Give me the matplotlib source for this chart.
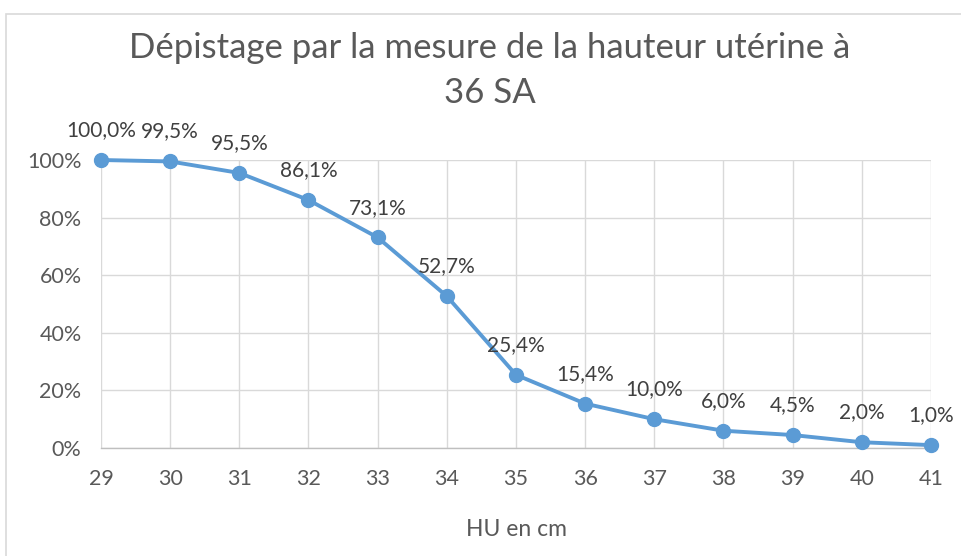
import matplotlib
matplotlib.use("Agg")
import matplotlib.pyplot as plt
from matplotlib.patches import Rectangle

hu_cm = [29, 30, 31, 32, 33, 34, 35, 36, 37, 38, 39, 40, 41]
depistage = [100.0, 99.5, 95.5, 86.1, 73.1, 52.7, 25.4, 15.4, 10.0, 6.0, 4.5, 2.0, 1.0]
y_ticks = [0, 20, 40, 60, 80, 100]

plt.rcParams['font.family'] = ['Lato', 'DejaVu Sans']

blue = '#5B9BD5'
grid_c = '#D9D9D9'
txt_c = '#595959'

fig = plt.figure(figsize=(9.61, 5.56), dpi=100)
ax = fig.add_axes([101/961, 1-448/556, (931-101)/961, (448-160)/556])

ax.plot(hu_cm, depistage, color=blue, lw=2.8, marker='o', ms=10, zorder=3, clip_on=False)
for x, v in zip(hu_cm, depistage):
    ax.annotate(f"{v:.1f}%".replace('.', ','), (x, v), xytext=(0, 21.5), textcoords='offset points',
                ha='center', va='center', fontsize=15, color='#404040')

ax.set_xlim(29, 41)
ax.set_ylim(0, 100)
ax.set_xticks(hu_cm)
ax.set_yticks(y_ticks)
ax.set_yticklabels([f"{t}%" for t in y_ticks])
ax.grid(True, color=grid_c, lw=1)
ax.set_axisbelow(True)
for s in ['top', 'right', 'left']:
    ax.spines[s].set_visible(False)
ax.spines['bottom'].set_color('#BFBFBF')
ax.spines['bottom'].set_linewidth(1)
ax.tick_params(length=0, labelsize=15.5, labelcolor=txt_c)
ax.tick_params(axis='x', pad=15)
ax.tick_params(axis='y', pad=14)

ax.set_xlabel("HU en cm", fontsize=16.5, color=txt_c, labelpad=22)

fig.text(0.51, 1-48/556, "Dépistage par la mesure de la hauteur utérine à", ha='center', va='center',
         fontsize=25, color=txt_c)
fig.text(0.51, 1-93/556, "36 SA", ha='center', va='center', fontsize=25, color=txt_c)

fig.patches.append(Rectangle((6/961, -0.1), 1.1, 1.1 - 14/556, transform=fig.transFigure,
                             fill=False, edgecolor=grid_c, lw=1.2))

fig.savefig("out.png", dpi=100)
